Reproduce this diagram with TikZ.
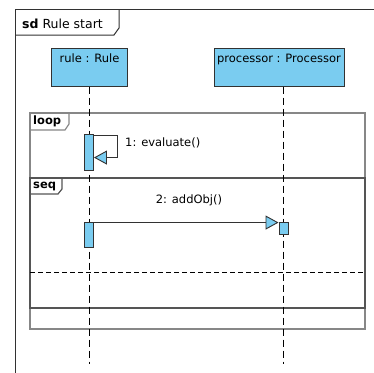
\documentclass[tikz,border=0pt]{standalone}
\usepackage{fontspec}
\setmainfont{DejaVu Sans}
\usetikzlibrary{arrows.meta,calc}
\definecolor{actblue}{RGB}{122,204,240}
\definecolor{loopgray}{RGB}{135,135,135}
\definecolor{seqgray}{RGB}{85,85,85}
\definecolor{framegray}{RGB}{50,50,50}
\tikzset{
  lifebox/.style={draw=framegray, line width=1pt, fill=actblue, inner sep=0pt},
  lifename/.style={font=\fontsize{11.5}{13}\selectfont, inner sep=0pt, anchor=north},
  lifeline/.style={draw=black, line width=0.9pt, dash pattern=on 7pt off 4pt},
  act/.style={draw=framegray, line width=0.9pt, fill=actblue, minimum width=9pt, inner sep=0pt},
  msgline/.style={draw=framegray, line width=0.9pt},
  tip/.style={-{Triangle[length=13pt,width=14pt,fill=actblue,line width=0.9pt]}},
  msglabel/.style={font=\fontsize{11.5}{13}\selectfont, inner sep=0pt},
  fraglabel/.style={font=\fontsize{11.5}{13}\selectfont\bfseries, inner sep=0pt, anchor=west},
}
\begin{document}
\begin{tikzpicture}[x=1pt,y=-1pt]
\useasboundingbox (0,0) rectangle (374,372);
\clip (0,0) rectangle (374,372);
\fill[white] (0,0) rectangle (374,372);

% outer sd frame
\draw[framegray, line width=1pt] (15,400) -- (15,9) -- (400,9);
\draw[framegray, line width=1pt] (15,35) -- (114,35) -- (119,28) -- (119,9);
\node[anchor=base west, inner sep=0pt, font=\fontsize{12.5}{14}\selectfont] (sdlabel) at (22,28) {\textbf{sd} Rule start};

% lifeline heads
\node[lifebox, minimum width=76pt, minimum height=38pt] (rule) at (89.5,67) {};
\node[lifename] (rulename) at ([yshift=-6pt]rule.north) {rule : Rule};
\node[lifebox, minimum width=130pt, minimum height=38pt] (proc) at (279,67) {};
\node[lifename] (procname) at ([yshift=-6pt]proc.north) {processor : Processor};

% activation positions
\coordinate (a1c) at (89,152);
\coordinate (a3c) at (283.5,228);

% combined fragments
\draw[loopgray, line width=1.2pt] (30,113) rectangle (365,329);
\draw[loopgray, line width=1.2pt] (30,130) -- (65,130) -- (69,124) -- (69,113);
\node[fraglabel] (looplabel) at (33,121.5) {loop};
\draw[seqgray, line width=1.2pt] (30,178) rectangle (365,308);
\draw[seqgray, line width=1.2pt] (30,194) -- (58,194) -- (62,189) -- (62,178);
\node[fraglabel] (seqlabel) at (33,186) {seq};
\coordinate (sepL) at (30,272);
\coordinate (sepR) at (365,272);
\draw[black, line width=0.9pt, dash pattern=on 5pt off 3pt] (sepL) -- (sepR);

% lifelines
\coordinate (ruleEnd) at (89,364);
\coordinate (procEnd) at (283.5,364);
\draw[lifeline] (rule.south -| a1c) -- (ruleEnd);
\draw[lifeline] (proc.south -| a3c) -- (procEnd);

% activations drawn over lifelines
\node[act, minimum height=36pt] (a1) at (a1c) {};
\node[act, minimum height=25pt] (a2) at (89,234.5) {};
\node[act, minimum height=12pt] (a3) at (a3c) {};

% message 1 (self)
\draw[msgline, tip] ([yshift=-1.5pt]a1.north east) -- ++(23.5,0) |- ([yshift=-24pt]a1.north east);
\node[msglabel, anchor=west] (m1) at (125,143) {1: evaluate()};

% message 2
\draw[msgline, tip] ([yshift=-1pt]a2.north east) -- ([yshift=-1pt]a3.north west);
\node[msglabel] (m2) at (189,200) {2: addObj()};
\end{tikzpicture}
\end{document}
